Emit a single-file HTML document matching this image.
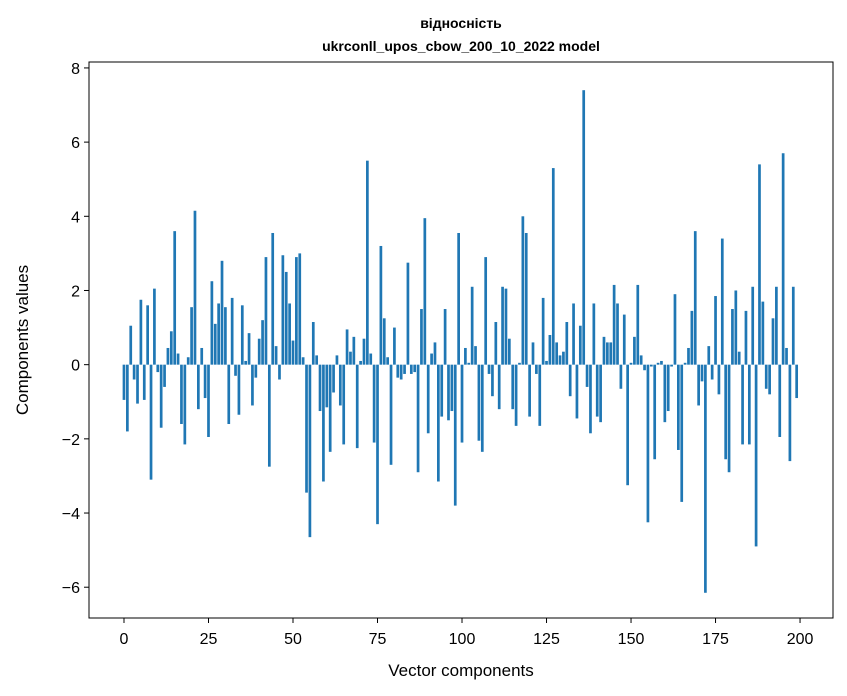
<!DOCTYPE html>
<html><head><meta charset="utf-8"><style>
body{margin:0;background:#fff;}
svg{display:block;font-family:"Liberation Sans","DejaVu Sans",sans-serif;}
</style></head><body>
<svg id="chart" width="847" height="696" viewBox="0 0 847 696">
<rect x="0" y="0" width="847" height="696" fill="#fff"/>
<text x="461" y="28" text-anchor="middle" font-size="14" font-weight="bold">відносність</text>
<text x="461" y="51" text-anchor="middle" font-size="14" font-weight="bold">ukrconll_upos_cbow_200_10_2022 model</text>
<g id="bars"></g>
<g id="xticks"></g>
<g id="yticks"></g>
<rect x="89" y="62" width="744" height="556" fill="none" stroke="#000" stroke-width="1"/>
<text x="461" y="676" text-anchor="middle" font-size="17">Vector components</text>
<text transform="translate(28,340) rotate(-90)" text-anchor="middle" font-size="17">Components values</text>
</svg>
<script>
const values = [-0.95,-1.8,1.05,-0.4,-1.05,1.75,-0.95,1.6,-3.1,2.05,
-0.2,-1.7,-0.6,0.45,0.9,3.6,0.3,-1.6,-2.15,0.2,
1.55,4.15,-1.2,0.45,-0.9,-1.95,2.25,1.1,1.65,2.8,
1.55,-1.6,1.8,-0.3,-1.35,1.6,0.1,0.85,-1.1,-0.35,
0.7,1.2,2.9,-2.75,3.55,0.5,-0.4,2.95,2.5,1.65,
0.65,2.9,3.0,0.2,-3.45,-4.65,1.15,0.25,-1.25,-3.15,
-1.15,-2.35,-0.75,0.25,-1.1,-2.15,0.95,0.35,0.75,-2.25,
0.1,0.7,5.5,0.3,-2.1,-4.3,3.2,1.25,0.2,-2.7,
1.0,-0.35,-0.4,-0.25,2.75,-0.25,-0.2,-2.9,1.5,3.95,
-1.85,0.3,0.6,-3.15,-1.4,1.5,-1.5,-1.25,-3.8,3.55,
-2.1,0.45,0.05,2.1,0.5,-2.05,-2.35,2.9,-0.25,-0.85,
1.15,-1.2,2.1,2.05,0.7,-1.2,-1.65,0.05,4.0,3.55,
-1.4,0.6,-0.25,-1.65,1.8,0.1,0.8,5.3,0.6,0.25,
0.35,1.15,-0.85,1.65,-1.45,1.05,7.4,-0.6,-1.85,1.65,
-1.4,-1.55,0.75,0.6,0.6,2.15,1.65,-0.65,1.35,-3.25,
0.05,0.75,2.15,0.25,-0.15,-4.25,-0.05,-2.55,0.05,0.1,
-1.55,-1.25,-0.05,1.9,-2.3,-3.7,0.05,0.45,1.45,3.6,
-1.1,-0.45,-6.15,0.5,-0.4,1.85,-0.8,3.4,-2.55,-2.9,
1.5,2.0,0.35,-2.15,1.45,-2.15,2.1,-4.9,5.4,1.7,
-0.65,-0.8,1.25,2.1,-1.95,5.7,0.45,-2.6,2.1,-0.9];
const xTickValues = [0,25,50,75,100,125,150,175,200];
const yTickValues = [-6,-4,-2,0,2,4,6,8];
const yTickLabels = ["\u22126","\u22124","\u22122","0","2","4","6","8"];

const NS = "http://www.w3.org/2000/svg";
const L=89,R=833,T=62,B=618;
const xMin=-10.35,xMax=209.75,yMin=-6.83,yMax=8.16;
function xs(v){return L+(v-xMin)/(xMax-xMin)*(R-L);}
function ys(v){return B-(v-yMin)/(yMax-yMin)*(B-T);}
const barsG=document.getElementById('bars');
values.forEach((v,i)=>{
  const r=document.createElementNS(NS,'rect');
  const x0=xs(i-0.4),x1=xs(i+0.4);
  const y0=ys(Math.max(v,0)),y1=ys(Math.min(v,0));
  r.setAttribute('x',x0);r.setAttribute('width',x1-x0);
  r.setAttribute('y',y0);r.setAttribute('height',Math.max(y1-y0,0.3));
  r.setAttribute('fill','#1f77b4');
  
  
  barsG.appendChild(r);
});
const xg=document.getElementById('xticks');
xTickValues.forEach(v=>{
  const x=xs(v);
  const l=document.createElementNS(NS,'line');
  l.setAttribute('x1',x);l.setAttribute('x2',x);l.setAttribute('y1',B);l.setAttribute('y2',B+5);
  l.setAttribute('stroke','#000');
  
  
  xg.appendChild(l);
  const t=document.createElementNS(NS,'text');
  t.setAttribute('x',x);t.setAttribute('y',B+26);t.setAttribute('text-anchor','middle');t.setAttribute('font-size','16');
  t.textContent=v;
  
  
  xg.appendChild(t);
});
const yg=document.getElementById('yticks');
yTickValues.forEach((v,i)=>{
  const y=ys(v);
  const l=document.createElementNS(NS,'line');
  l.setAttribute('x1',L-5);l.setAttribute('x2',L);l.setAttribute('y1',y);l.setAttribute('y2',y);
  l.setAttribute('stroke','#000');
  
  
  yg.appendChild(l);
  const t=document.createElementNS(NS,'text');
  t.setAttribute('x',L-9);t.setAttribute('y',y+6);t.setAttribute('text-anchor','end');t.setAttribute('font-size','16');
  t.textContent=yTickLabels[i];
  
  
  yg.appendChild(t);
});
</script>
</body></html>
